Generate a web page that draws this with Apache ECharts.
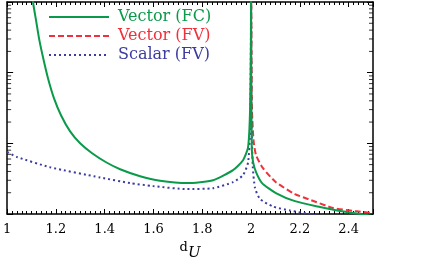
<!DOCTYPE html>
<html>
<head>
<meta charset="utf-8">
<script src="https://cdn.jsdelivr.net/npm/echarts@6/dist/echarts.min.js"></script>
<style>
html,body{margin:0;padding:0;background:#fff;}
#c{width:436px;height:273px;}
</style>
</head>
<body>
<div id="c"></div>
<script>
// d_U values (x) and amplitudes (log y)
const seriesNames = ['Vector (FC)', 'Vector (FV)', 'Scalar (FV)'];
const vectorFC = [
  [1.100, 1.5], [1.1066, 0.968], [1.1189, 0.540], [1.1311, 0.301], [1.1475, 0.1627],
  [1.1680, 0.0823], [1.1926, 0.0430], [1.2213, 0.0248], [1.2582, 0.01476],
  [1.2992, 0.0100], [1.3484, 0.00723], [1.4057, 0.0054], [1.4631, 0.0043],
  [1.5451, 0.00343], [1.6270, 0.00296], [1.7377, 0.00274], [1.8443, 0.00301],
  [1.9262, 0.00417], [1.9672, 0.00576], [1.9877, 0.00879], [1.9959, 0.0292],
  [1.9995, 0.3], [2.0, 3],
  [2.0008, 0.08], [2.003, 0.0085], [2.008, 0.0055], [2.0205, 0.00391], [2.045, 0.00274],
  [2.102, 0.00198], [2.180, 0.00152], [2.283, 0.001255], [2.365, 0.0011],
  [2.447, 0.001], [2.5, 0.00094]
];
const vectorFV = [
  [2.0005, 3], [2.002, 0.2], [2.004, 0.0292], [2.0102, 0.0110], [2.0205, 0.00678],
  [2.049, 0.00445], [2.102, 0.00282], [2.180, 0.00191], [2.234, 0.00163],
  [2.336, 0.001216], [2.426, 0.0011], [2.5, 0.00103]
];
const scalarFV = [
  [1.0, 0.00754], [1.04, 0.00641], [1.176, 0.00459], [1.381, 0.00329],
  [1.504, 0.00274], [1.598, 0.00248], [1.738, 0.00225], [1.844, 0.00232],
  [1.926, 0.00282], [1.967, 0.00354], [1.988, 0.0054], [1.996, 0.0152],
  [1.9995, 0.3], [2.0, 3], [2.0008, 0.3], [2.002, 0.0211], [2.007, 0.00474],
  [2.0164, 0.00232], [2.037, 0.00163], [2.090, 0.001276], [2.160, 0.00112],
  [2.225, 0.00102], [2.283, 0.00094], [2.385, 0.00082], [2.5, 0.00072]
];
const yMinorTicks = [];
[0.001, 0.01, 0.1].forEach(function (d) {
  for (let k = 2; k <= 9; k++) yMinorTicks.push(+(k * d).toPrecision(3));
});
const xMin = 1, xMax = 2.5, xStep = 0.2;
const yMin = 0.001, yMax = 1;

const colors = ['#0a9a4a', '#f0303a', '#3c3ca0'];
const serif = '"DejaVu Serif", "Liberation Serif", serif';

function xAxisCfg(pos, labels) {
  return {
    type: 'value', position: pos, min: xMin, max: xMax, interval: xStep,
    axisLine: {show: true, onZero: false, lineStyle: {color: '#000', width: 1.5}},
    axisTick: {show: true, inside: true, length: 5, lineStyle: {color: '#000', width: 1}},
    minorTick: {show: true, splitNumber: 10, length: 3, lineStyle: {color: '#000', width: 1}},
    splitLine: {show: false}, minorSplitLine: {show: false},
    axisLabel: {show: labels, showMaxLabel: false, margin: 9, color: '#000',
      fontFamily: serif, fontSize: 13},
    name: labels ? '{d|d}{u|U}' : '', nameLocation: 'middle', nameGap: 26,
    nameTextStyle: {rich: {
      d: {fontFamily: serif, fontSize: 13, color: '#000', verticalAlign: 'top', lineHeight: 20},
      u: {fontFamily: serif, fontSize: 15, fontStyle: 'italic', color: '#000', verticalAlign: 'bottom', lineHeight: 20}
    }}
  };
}
function yAxisCfg(pos) {
  return {
    type: 'log', logBase: 10, position: pos, min: yMin, max: yMax, splitNumber: 3,
    axisLine: {show: true, onZero: false, lineStyle: {color: '#000', width: 1.5}},
    axisTick: {show: true, inside: true, length: 6, lineStyle: {color: '#000', width: 1}},
    splitLine: {show: false},
    axisLabel: {show: false}
  };
}
function minorTickSeries(xv, offset) {
  return {
    type: 'scatter', xAxisIndex: 0, yAxisIndex: 0, silent: true, clip: false,
    symbol: 'rect', symbolSize: [4, 1], symbolOffset: [offset, 0],
    itemStyle: {color: '#000'}, z: 5,
    data: yMinorTicks.map(function (v) { return [xv, v]; })
  };
}

const chart = echarts.init(document.getElementById('c'), null, {renderer: 'canvas'});
chart.setOption({
  animation: false,
  backgroundColor: '#fff',
  grid: {left: 7, right: 63, top: 2, bottom: 59, containLabel: false},
  legend: {
    orient: 'vertical', left: 43, top: 4, itemWidth: 60, itemHeight: 14, itemGap: 3,
    itemStyle: {opacity: 0},
    data: seriesNames.map(function (n, i) {
      return {name: n, textStyle: {color: colors[i]}};
    }),
    textStyle: {fontFamily: serif, fontSize: 16, padding: [0, 0, 0, 4]}
  },
  xAxis: [xAxisCfg('bottom', true), xAxisCfg('top', false)],
  yAxis: [yAxisCfg('left'), yAxisCfg('right')],
  series: [
    {name: seriesNames[1], type: 'line', data: vectorFV, showSymbol: false, symbol: 'none',
     smooth: 0.2, color: colors[1], z: 2,
     lineStyle: {color: colors[1], width: 2, type: [6, 3]}},
    {name: seriesNames[2], type: 'line', data: scalarFV, showSymbol: false, symbol: 'none',
     smooth: 0.2, color: colors[2], z: 3,
     lineStyle: {color: colors[2], width: 2, type: [2, 3]}},
    {name: seriesNames[0], type: 'line', data: vectorFC, showSymbol: false, symbol: 'none',
     smooth: 0.2, color: colors[0], z: 4,
     lineStyle: {color: colors[0], width: 2, type: 'solid'}},
    minorTickSeries(xMin, 2),
    minorTickSeries(xMax, -2)
  ]
});
</script>
</body>
</html>
